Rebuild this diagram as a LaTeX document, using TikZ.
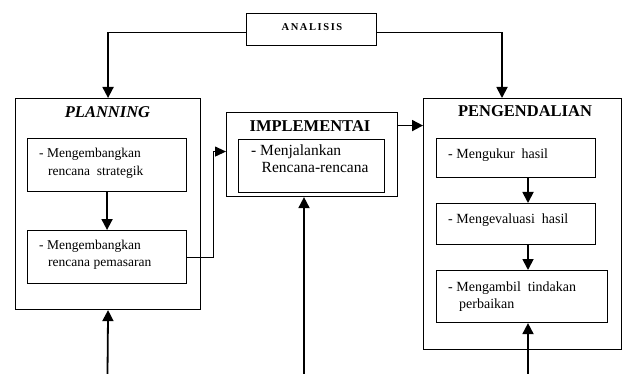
\documentclass[tikz,border=0pt]{standalone}
\usepackage{fontspec}
\setmainfont{Liberation Serif}
\usetikzlibrary{arrows.meta,calc}
\begin{document}
\begin{tikzpicture}[x=1pt,y=-1pt,
  box/.style={draw, line width=1.1pt, inner sep=0pt, anchor=north west},
  conn/.style={line width=1.8pt, -{Triangle[length=11pt,width=11pt]}},
  thinconn/.style={line width=1.1pt, -{Triangle[length=11pt,width=10pt]}},
  ttl/.style={font=\fontsize{16.5}{18}\selectfont\bfseries, anchor=base, inner sep=0pt},
  txa/.style={font=\fontsize{13.5}{15}\selectfont, anchor=base west, inner sep=0pt},
  txb/.style={font=\fontsize{15.5}{17}\selectfont, anchor=base west, inner sep=0pt},
  txc/.style={font=\fontsize{14}{16}\selectfont, anchor=base west, inner sep=0pt}]
\useasboundingbox (0,0) rectangle (626,374);
% boxes
\node[box, minimum width=130pt, minimum height=32pt] (an) at (246,13) {};
\node[box, minimum width=185pt, minimum height=211pt] (plan) at (15,98) {};
\node[box, minimum width=159pt, minimum height=53pt] (p1) at (27,138) {};
\node[box, minimum width=159pt, minimum height=53pt] (p2) at (27,230) {};
\node[box, minimum width=171pt, minimum height=84pt] (impl) at (226,112) {};
\node[box, minimum width=146pt, minimum height=53pt] (i1) at (238,139) {};
\node[box, minimum width=198pt, minimum height=251pt] (peng) at (423,98) {};
\node[box, minimum width=159pt, minimum height=39pt] (g1) at (436,138) {};
\node[box, minimum width=159pt, minimum height=41pt] (g2) at (436,203) {};
\node[box, minimum width=171pt, minimum height=52pt] (g3) at (436,270) {};
% texts
\node[inner sep=0pt, anchor=base, font=\fontsize{10.5}{11}\selectfont\bfseries\addfontfeature{LetterSpace=15}] (ant) at (312,31) {ANALISIS};
\node[ttl] (plant) at (107.5,118) {\itshape PLANNING};
\node[ttl] (implt) at (310,131.5) {IMPLEMENTAI};
\node[ttl] (pengt) at (525,116.5) {PENGENDALIAN};
\node[txa] (p1a) at (39,158) {- Mengembangkan};
\node[txa] (p1b) at (48,176) {rencana\ \ strategik};
\node[txa] (p2a) at (39,249) {- Mengembangkan};
\node[txa] (p2b) at (48,266) {rencana pemasaran};
\node[txb] (i1a) at (251,155.5) {- Menjalankan};
\node[txb] (i1b) at (261.5,173) {Rencana-rencana};
\node[txc] (g1a) at (448,159) {- Mengukur\ \ hasil};
\node[txc] (g2a) at (448,223) {- Mengevaluasi\ \ hasil};
\node[txc] (g3a) at (448,291) {- Mengambil\ \ tindakan};
\node[txc] (g3b) at (459,308.5) {perbaikan};
% helper coordinates
\coordinate (ax) at (528,0);
\coordinate (b1) at (107.5,374);
\coordinate (b2) at (304,374);
\coordinate (b3) at (528,374);
\coordinate (pr) at (502,0);
\coordinate (ie) at ([yshift=29pt]impl.east);
% connectors
\draw[conn] ([yshift=-3pt]an.west) -| (plan.north);
\draw[conn] ([yshift=-3pt]an.east) -| (pr |- peng.north);
\draw[conn] (p1.south) -- (p2.north);
\draw[thinconn] (p2.east) -- ++(26,0) |- ([yshift=3pt]impl.west);
\draw[conn] (ie) -- (ie -| peng.west);
\draw[conn] (g1.south -| ax) -- (g2.north -| ax);
\draw[conn] (g2.south -| ax) -- (g3.north -| ax);
\draw[conn] (b1) -- (plan.south);
\draw[conn] (b2) -- (impl.south -| b2);
\draw[conn] (b3) -- (g3.south -| b3);
\end{tikzpicture}
\end{document}
